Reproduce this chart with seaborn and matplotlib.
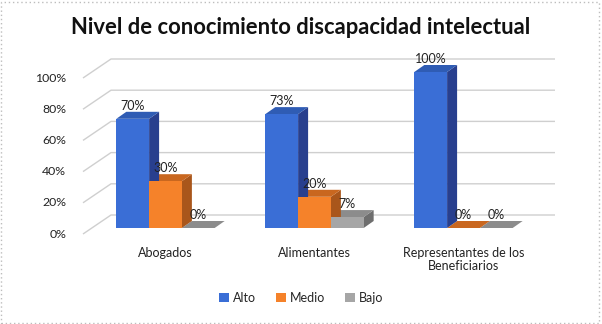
import matplotlib
matplotlib.use("Agg")
import matplotlib.pyplot as plt
import seaborn as sns
import pandas as pd
import numpy as np
from matplotlib.patches import Polygon, Rectangle

categories = ["Abogados", "Alimentantes", "Representantes de los\nBeneficiarios"]
levels = ["Alto", "Medio", "Bajo"]
alto = [70, 73, 100]
medio = [30, 20, 0]
bajo = [0, 7, 0]
yticks = [0, 20, 40, 60, 80, 100]
ytick_labels = ["0%", "20%", "40%", "60%", "80%", "100%"]

front_colors = ["#3A6ED6", "#F5822A", "#A6A6A6"]
side_colors = ["#283F8E", "#A9561B", "#6E6E6E"]
top_colors = ["#2F5CB4", "#C9671F", "#8C8C8C"]

df = pd.DataFrame({
    "cat": categories * 3,
    "nivel": [l for l in levels for _ in categories],
    "val": alto + medio + bajo,
})

sns.set_theme(style="white")
plt.rcParams["font.family"] = ["Lato", "DejaVu Sans"]

W, H, DPI = 602, 324, 100
fig = plt.figure(figsize=(W / DPI, H / DPI), dpi=DPI)
ax_l, ax_r, ax_b, ax_t = 91, 535, 228, 72
ax = fig.add_axes([ax_l / W, (H - ax_b) / H, (ax_r - ax_l) / W, (ax_b - ax_t) / H])

sns.barplot(data=df, x="cat", y="val", hue="nivel", order=categories,
            hue_order=levels, palette=front_colors, width=0.66,
            saturation=1, ax=ax, linewidth=0, zorder=3)

xlim = (-0.5, 2.48)
ax.set_xlim(*xlim)
ax.set_ylim(0, 100)
for s in ax.spines.values():
    s.set_visible(False)
ax.set_xlabel("")
ax.set_ylabel("")
ax.set_yticks([])
ax.tick_params(axis="x", length=0, pad=14, labelsize=9)
ax.set_xticks(range(len(categories)))
ax.set_xticklabels(categories, fontsize=9, color="#222222", linespacing=1.05)
ax.patch.set_alpha(0)

px_x = (ax_r - ax_l) / (xlim[1] - xlim[0])
px_y = (ax_b - ax_t) / 100.0

def d(px_dx, px_dy):
    return px_dx / px_x, px_dy / px_y

# gridlines: front plane and back wall
fdx, fdy = d(-8, -6)
bdx, bdy = d(20, 13)
for t, lab in zip(yticks, ytick_labels):
    ax.plot([xlim[0] + fdx, xlim[0] + bdx, xlim[1] + bdx],
            [t + fdy, t + bdy, t + bdy], color="#cfcfcf", lw=1,
            zorder=0, clip_on=False, solid_capstyle="butt")
    ax.text(xlim[0] + fdx - d(17, 0)[0], t + fdy, lab,
            ha="right", va="center", fontsize=8.8, color="#222222")

# 3D faces on bars
ddx, ddy = d(10, 7)
for i, cont in enumerate(ax.containers):
    for j, bar in enumerate(cont):
        x0 = bar.get_x(); w = bar.get_width(); h = bar.get_height()
        x1 = x0 + w
        side = Polygon([(x1, 0), (x1 + ddx, ddy), (x1 + ddx, h + ddy), (x1, h)],
                       closed=True, facecolor=side_colors[i], edgecolor="none",
                       zorder=3 - i * 0.01, clip_on=False)
        top = Polygon([(x0, h), (x0 + ddx, h + ddy), (x1 + ddx, h + ddy), (x1, h)],
                      closed=True, facecolor=top_colors[i], edgecolor="none",
                      zorder=3 - i * 0.01, clip_on=False)
        ax.add_patch(side)
        ax.add_patch(top)
        bar.set_zorder(3.5 - i * 0.01)
        ax.text(x0 + w / 2, h + ddy, f"{h:.0f}%", ha="center", va="bottom",
                fontsize=9, color="#222222", zorder=6)

sns.move_legend(ax, "center", bbox_to_anchor=(0.5, (H - 298) / H),
                bbox_transform=fig.transFigure, ncol=3, frameon=False,
                title=None, fontsize=9, handlelength=0.8, handleheight=0.8,
                handletextpad=0.3, columnspacing=1.6)

fig.text(0.5, 1 - 28 / H, "Nivel de conocimiento discapacidad intelectual",
         ha="center", va="center", fontsize=15.8, fontweight="bold", color="#111111")

fig.patches.append(Rectangle((0.002, 0.004), 0.993, 0.99, transform=fig.transFigure,
                             fill=False, edgecolor="#bdbdbd", lw=1, ls=(0, (1, 2))))

fig.savefig("out.png", dpi=DPI)
